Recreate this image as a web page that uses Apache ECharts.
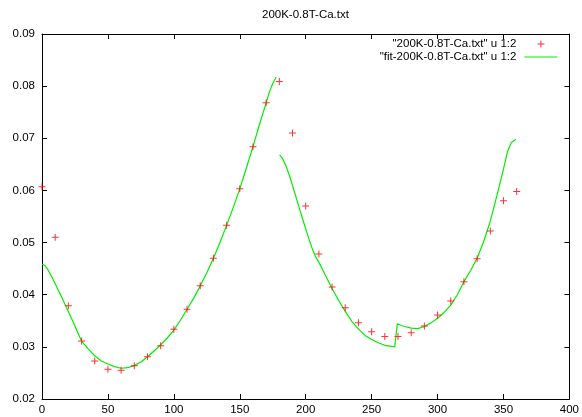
<!DOCTYPE html>
<html>
<head>
<meta charset="utf-8">
<script src="https://cdn.jsdelivr.net/npm/echarts@6/dist/echarts.min.js"></script>
<style>
html,body{margin:0;padding:0;background:#fff;}
#chart{width:582px;height:417px;}
</style>
</head>
<body>
<div id="chart"></div>
<script>
const titleText = '200K-0.8T-Ca.txt';
const dataName = '"200K-0.8T-Ca.txt" u 1:2';
const fitName = '"fit-200K-0.8T-Ca.txt" u 1:2';

const xTicks = [0, 50, 100, 150, 200, 250, 300, 350, 400];
const yTicks = ['0.02', '0.03', '0.04', '0.05', '0.06', '0.07', '0.08', '0.09'];

// measured points
const dataX = [0, 10, 20, 30, 40, 50, 60, 70, 80, 90, 100, 110, 120, 130, 140, 150, 160, 170, 180,
  190, 200, 210, 220, 230, 240, 250, 260, 270, 280, 290, 300, 310, 320, 330, 340, 350, 360];
const dataY = [0.0607, 0.0510, 0.0379, 0.0311, 0.0273, 0.0257, 0.0255, 0.0264, 0.0281, 0.0302, 0.0334,
  0.0372, 0.0417, 0.0470, 0.0533, 0.0603, 0.0684, 0.0768, 0.0809, 0.0710, 0.0570, 0.0478, 0.0415,
  0.0375, 0.0346, 0.0329, 0.0320, 0.0320, 0.0327, 0.0340, 0.0361, 0.0388, 0.0425, 0.0469, 0.0522,
  0.0580, 0.0598];

// fit curve (null = gap)
const fitX = [0, 2.2, 4.7, 7.3, 9.8, 12.3, 14.8, 17.3, 19.8, 22.3, 25, 27.5, 30, 35, 40, 45, 50, 55, 60,
  65, 70, 75, 80, 85, 90, 95, 100, 105, 110, 115, 120, 125, 130, 135, 140, 145, 150, 155, 160, 165,
  170, 172.5, 175, 177.6, 179,
  180.2, 182.2, 184.7, 187.2, 189.7, 192.2, 194.7, 197.2, 199.8, 202.3, 205, 207.5, 210, 212.5, 215,
  220, 225, 230, 235, 240, 245, 250, 255, 260, 265, 267.5,
  269.5, 272.5, 275, 280, 285, 290, 295, 300, 305, 310, 315, 320, 325, 330, 335, 340, 345, 350,
  353, 356, 359.5];
const fitY = [0.0459, 0.0456, 0.0447, 0.0435, 0.0422, 0.0409, 0.0396, 0.0382, 0.0369, 0.0355, 0.0340,
  0.0325, 0.0311, 0.0296, 0.0283, 0.0273, 0.0267, 0.0262, 0.0259, 0.0260, 0.0264, 0.0271, 0.0281,
  0.0292, 0.0304, 0.0317, 0.0332, 0.0351, 0.0372, 0.0393, 0.0417, 0.0442, 0.0470, 0.0500, 0.0533,
  0.0567, 0.0603, 0.0643, 0.0684, 0.0727, 0.0768, 0.0789, 0.0805, 0.0817, null,
  0.0668, 0.0662, 0.0649, 0.0632, 0.0612, 0.0591, 0.0570, 0.0549, 0.0528, 0.0508, 0.0488, 0.0473,
  0.0462, 0.0450, 0.0437, 0.0412, 0.0389, 0.0368, 0.0349, 0.0334, 0.0322, 0.0314, 0.0308, 0.0303,
  0.0301, 0.0300,
  0.0344, 0.0341, 0.0339, 0.0336, 0.0335, 0.0339, 0.0346, 0.0355, 0.0366, 0.0380, 0.0400, 0.0425,
  0.0446, 0.0470, 0.0502, 0.0541, 0.0590, 0.0641, 0.0674, 0.0692, 0.0698];

const FONT = '"Liberation Sans", Arial, sans-serif';
const plusPath = 'path://M0,3H7V4H0ZM3,0H4V7H3Z';

const xMin = xTicks[0], xMax = xTicks[xTicks.length - 1], xStep = xTicks[1] - xTicks[0];
const yMin = parseFloat(yTicks[0]), yMax = parseFloat(yTicks[yTicks.length - 1]);
const yStep = parseFloat(yTicks[1]) - parseFloat(yTicks[0]);

function axisCommon(pos, showLabel, isY) {
  return {
    type: 'value',
    position: pos,
    min: isY ? yMin : xMin,
    max: isY ? yMax : xMax,
    interval: isY ? yStep : xStep,
    axisLine: { show: true, onZero: false, lineStyle: { color: '#000', width: 1 } },
    axisTick: { show: true, inside: true, length: 5, lineStyle: { color: '#000', width: 1 } },
    axisLabel: {
      show: showLabel, color: '#000', fontSize: 11.5, fontFamily: FONT,
      margin: isY ? 7 : 5,
      formatter: isY ? (v => v.toFixed(2)) : (v => String(Math.round(v)))
    },
    splitLine: { show: false }
  };
}

const chart = echarts.init(document.getElementById('chart'), null, { renderer: 'canvas' });
chart.setOption({
  animation: false,
  backgroundColor: '#fff',
  title: {
    text: titleText, left: 262, top: 9, padding: 0,
    textStyle: { fontSize: 11.5, fontWeight: 'normal', color: '#000', fontFamily: FONT }
  },
  legend: {
    orient: 'vertical', align: 'right', right: 24, top: 37.5, padding: 0,
    itemWidth: 33, itemHeight: 7, itemGap: 0,
    textStyle: { fontSize: 11.5, color: '#000', fontFamily: FONT, lineHeight: 13, padding: [0, 3, 0, 0] },
    data: [
      { name: dataName, icon: plusPath },
      { name: fitName, itemStyle: { opacity: 0 }, lineStyle: { width: 1.2 } }
    ]
  },
  grid: { left: 42, right: 10, top: 34, bottom: 18, containLabel: false },
  xAxis: [axisCommon('bottom', true, false), axisCommon('top', false, false)],
  yAxis: [axisCommon('left', true, true), axisCommon('right', false, true)],
  series: [
    {
      name: dataName, type: 'scatter', xAxisIndex: 0, yAxisIndex: 0,
      symbol: plusPath, symbolSize: 7, symbolKeepAspect: true,
      itemStyle: { color: '#ff0000' },
      data: dataX.map((x, i) => [x, dataY[i]]),
      z: 3
    },
    {
      name: fitName, type: 'line', xAxisIndex: 0, yAxisIndex: 0,
      showSymbol: false, symbol: 'none', connectNulls: false,
      lineStyle: { color: '#00ee00', width: 1.2 },
      itemStyle: { color: '#00ee00' },
      data: fitX.map((x, i) => [x, fitY[i] === null ? '-' : fitY[i]]),
      z: 2
    }
  ]
});
</script>
</body>
</html>
